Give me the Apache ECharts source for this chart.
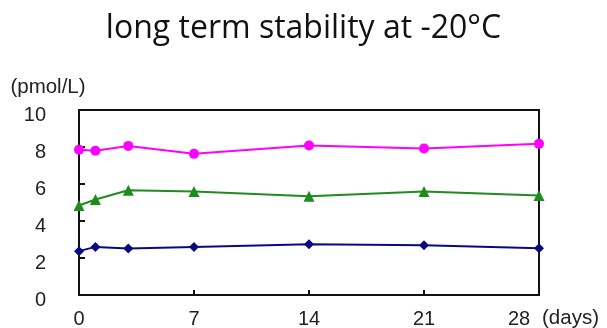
<!DOCTYPE html>
<html>
<head>
<meta charset="utf-8">
<script src="https://cdn.jsdelivr.net/npm/echarts@6/dist/echarts.min.js"></script>
<style>
html, body { margin: 0; padding: 0; background: #fff; }
#chart { width: 607px; height: 328px; }
</style>
</head>
<body>
<div id="chart"></div>
<script>
// Sampling days and measured concentrations (pmol/L)
const days = [0, 1, 3, 7, 14, 21, 28];
const highLevel = [7.85, 7.8, 8.06, 7.63, 8.08, 7.92, 8.17];
const midLevel = [4.84, 5.16, 5.66, 5.59, 5.34, 5.59, 5.38];
const lowLevel = [2.37, 2.6, 2.51, 2.6, 2.74, 2.69, 2.53];
const xTicks = [0, 7, 14, 21, 28];
const yTicks = [0, 2, 4, 6, 8, 10];

const pairs = vals => days.map((d, i) => [d, vals[i]]);
const lastDay = xTicks[xTicks.length - 1];

const chart = echarts.init(document.getElementById('chart'), null, { renderer: 'canvas' });
const axisFont = { fontFamily: 'Liberation Sans, Arial, sans-serif', fontSize: 20, color: '#222' };
const nameFont = { fontFamily: 'Liberation Sans, Arial, sans-serif', fontSize: 20.5, color: '#222' };

chart.setOption({
  animation: false,
  backgroundColor: '#fff',
  title: {
    text: 'long term stability at -20°C',
    left: 'center',
    top: 8,
    textStyle: { fontFamily: 'Open Sans', fontWeight: 'normal', fontSize: 32, color: '#111' }
  },
  grid: {
    left: 79, right: 68, top: 110, bottom: 33,
    containLabel: false, outerBoundsMode: 'none',
    show: true, borderColor: '#111', borderWidth: 2, backgroundColor: 'transparent'
  },
  xAxis: {
    type: 'value', min: 0, max: 28, interval: 7,
    axisLine: { show: true, lineStyle: { color: '#111', width: 2 } },
    axisTick: { show: true, inside: true, length: 5, lineStyle: { color: '#111', width: 2 } },
    splitLine: { show: false },
    axisLabel: Object.assign({
      margin: 14,
      formatter: v => !xTicks.includes(v) ? '' : (v === lastDay ? '{last|' + v + '}' : String(v)),
      rich: { last: Object.assign({ padding: [0, 40, 0, 0] }, axisFont) }
    }, axisFont),
    name: '(days)', nameLocation: 'end', nameGap: 3,
    nameTextStyle: Object.assign({ verticalAlign: 'top', padding: [13, 0, 0, 0] }, nameFont)
  },
  yAxis: {
    type: 'value', min: 0, max: 10, interval: 2,
    axisLine: { show: true, lineStyle: { color: '#111', width: 2 } },
    axisTick: { show: true, inside: true, length: 6, lineStyle: { color: '#111', width: 2 } },
    splitLine: { show: false },
    axisLabel: Object.assign({
      margin: 33, verticalAlign: 'top', lineHeight: 11,
      formatter: v => yTicks.includes(v) ? String(v) : ''
    }, axisFont),
    name: '(pmol/L)', nameLocation: 'end', nameGap: 12,
    nameTextStyle: Object.assign({ align: 'center', padding: [0, 62, 0, 0] }, nameFont)
  },
  series: [
    {
      type: 'line', data: pairs(highLevel), symbol: 'circle', symbolSize: 10,
      lineStyle: { color: '#ff00ff', width: 2 }, itemStyle: { color: '#ff00ff' }
    },
    {
      type: 'line', data: pairs(midLevel), symbol: 'triangle', symbolSize: 11,
      lineStyle: { color: '#1e8c1e', width: 2 }, itemStyle: { color: '#1e8c1e' }
    },
    {
      type: 'line', data: pairs(lowLevel), symbol: 'diamond', symbolSize: 10,
      lineStyle: { color: '#0a0a80', width: 2 }, itemStyle: { color: '#0a0a80' }
    }
  ]
});
</script>
</body>
</html>
